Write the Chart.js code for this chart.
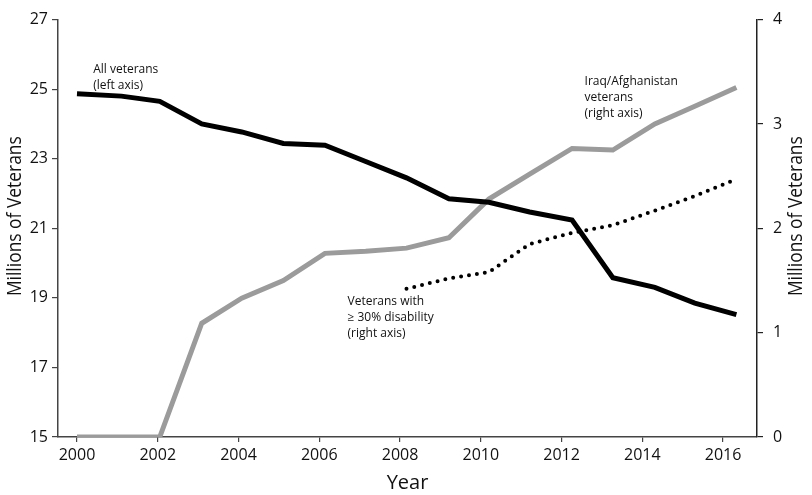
<!DOCTYPE html>
<html>
<head>
<meta charset="utf-8">
<script src="https://cdn.jsdelivr.net/npm/chart.js@4"></script>
<style>
  html, body { margin: 0; padding: 0; background: #fff; }
  #wrap { width: 812px; height: 495px; position: relative; }
</style>
</head>
<body>
<div id="wrap"><canvas id="vetChart"></canvas></div>
<script>
// Data (x = plotted year position, y = millions)
const allYears = [2000.0, 2001.1, 2002.05, 2003.09, 2004.08, 2005.11, 2006.14, 2007.15, 2008.16,
  2009.21, 2010.2, 2011.21, 2012.26, 2013.27, 2014.31, 2015.3, 2016.33];
const allVeterans = [24.87, 24.8, 24.65, 24.0, 23.77, 23.44, 23.39, 22.92, 22.45,
  21.85, 21.75, 21.47, 21.24, 19.58, 19.3, 18.85, 18.52];
const iraqAfghan = [0, 0, 0, 1.09, 1.33, 1.5, 1.76, 1.78, 1.81,
  1.91, 2.28, 2.52, 2.765, 2.75, 3.0, 3.17, 3.35];
const disabYears = [2008.16, 2009.21, 2010.2, 2011.21, 2012.26, 2013.27, 2014.31, 2015.3, 2016.2];
const disability30 = [1.42, 1.52, 1.58, 1.85, 1.955, 2.03, 2.17, 2.31, 2.45];

const xTickYears = [2000, 2002, 2004, 2006, 2008, 2010, 2012, 2014, 2016];
const leftTicks = [15, 17, 19, 21, 23, 25, 27];
const rightTicks = [0, 1, 2, 3, 4];

const yTitle = "Millions of Veterans";
const FONT = "'Open Sans', 'Noto Sans', sans-serif";

function pairs(xs, ys) {
  return ys.map((v, i) => ({ x: xs[i], y: v }));
}

// text notes placed in data coordinates
const notes = [
  { lines: ["All veterans", "(left axis)"], x: 2000.4, y: 25.57, axis: "yL" },
  { lines: ["Iraq/Afghanistan", "veterans", "(right axis)"], x: 2012.57, y: 3.41, axis: "yR" },
  { lines: ["Veterans with", "\u2265 30% disability", "(right axis)"], x: 2006.7, y: 1.3, axis: "yR" },
];

const notePlugin = {
  id: "notes",
  afterDatasetsDraw(chart) {
    const c = chart.ctx;
    c.save();
    c.font = "12px " + FONT;
    c.fillStyle = "#111";
    c.textAlign = "left";
    c.textBaseline = "middle";
    notes.forEach((n) => {
      const px = chart.scales.x.getPixelForValue(n.x);
      const py = chart.scales[n.axis].getPixelForValue(n.y);
      n.lines.forEach((t, i) => c.fillText(t, px, py + i * 16));
    });

    // both vertical titles read bottom-to-top (original font is narrower, so squeeze a bit)
    const midY = chart.scales.yL.getPixelForValue(21.35);
    c.font = "20px " + FONT;
    c.textAlign = "center";
    [15, chart.width - 16].forEach((tx) => {
      c.save();
      c.translate(tx, midY);
      c.rotate(-Math.PI / 2);
      c.scale(0.87, 1);
      c.fillText(yTitle, 0, 0);
      c.restore();
    });
    c.restore();
  },
};

const axisColor = "#444";

new Chart(document.getElementById("vetChart"), {
  type: "line",
  data: {
    datasets: [
      {
        label: "All veterans",
        data: pairs(allYears, allVeterans),
        yAxisID: "yL",
        borderColor: "#000",
        borderWidth: 5,
        pointRadius: 0,
        tension: 0,
      },
      {
        label: "Iraq/Afghanistan veterans",
        data: pairs(allYears, iraqAfghan),
        yAxisID: "yR",
        borderColor: "#9b9b9b",
        borderWidth: 5,
        pointRadius: 0,
        tension: 0,
      },
      {
        label: "Veterans with >=30% disability",
        data: pairs(disabYears, disability30),
        yAxisID: "yR",
        borderColor: "#000",
        borderWidth: 4,
        borderDash: [0, 8],
        borderCapStyle: "round",
        pointRadius: 0,
        tension: 0,
      },
    ],
  },
  options: {
    responsive: true,
    maintainAspectRatio: false,
    animation: false,
    layout: { padding: { top: 10, right: 0, left: 0, bottom: 0 } },
    plugins: { legend: { display: false }, tooltip: { enabled: false } },
    scales: {
      x: {
        type: "linear",
        min: 1999.53,
        max: 2016.84,
        afterBuildTicks: (s) => { s.ticks = xTickYears.map((v) => ({ value: v })); },
        afterFit: (s) => { s.height = 58; },
        ticks: {
          color: "#111",
          font: { family: FONT, size: 16 },
          padding: 4,
          maxRotation: 0,
          callback: (v) => String(v),
        },
        grid: { drawOnChartArea: false, tickLength: 5, color: axisColor, lineWidth: 1.2 },
        border: { display: true, color: axisColor, width: 1.5 },
        title: {
          display: true,
          text: "Year",
          color: "#111",
          font: { family: FONT, size: 20 },
          padding: { top: 0, bottom: 0 },
        },
      },
      yL: {
        position: "left",
        min: 15,
        max: 27,
        afterBuildTicks: (s) => { s.ticks = leftTicks.map((v) => ({ value: v })); },
        afterFit: (s) => { s.width = 58; },
        ticks: { color: "#111", font: { family: FONT, size: 16 }, padding: 4 },
        grid: { drawOnChartArea: false, tickLength: 6, color: axisColor, lineWidth: 1.2 },
        border: { display: true, color: axisColor, width: 1.5 },
      },
      yR: {
        position: "right",
        min: 0,
        max: 4,
        afterBuildTicks: (s) => { s.ticks = rightTicks.map((v) => ({ value: v })); },
        afterFit: (s) => { s.width = 55; },
        ticks: { color: "#111", font: { family: FONT, size: 16 }, padding: 10 },
        grid: { drawOnChartArea: false, tickLength: 6, color: "#222", lineWidth: 1.2 },
        border: { display: true, color: "#222", width: 1.5 },
      },
    },
  },
  plugins: [notePlugin],
});
</script>
</body>
</html>
